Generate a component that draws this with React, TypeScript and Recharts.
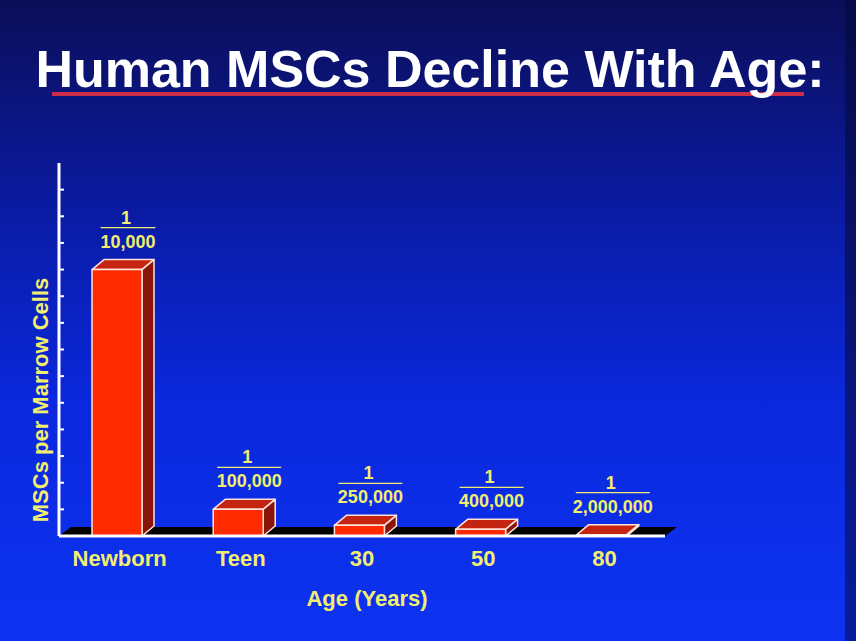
import React from "react";
import {
  BarChart,
  Bar,
  XAxis,
  YAxis,
  LabelList,
  Label,
  ReferenceArea,
} from "recharts";

const ages = ["Newborn", "Teen", "30", "50", "80"];
// MSCs per million marrow cells (1 in N)
const perMillion = [100, 10, 4, 2.5, 0.5];
const denominators = ["10,000", "100,000", "250,000", "400,000", "2,000,000"];
const yTicks = [10, 20, 30, 40, 50, 60, 70, 80, 90, 100, 110, 120, 130];

const data = ages.map((age, i) => ({
  age,
  value: perMillion[i],
  denom: denominators[i],
}));

const FONT = "'Liberation Sans', Arial, sans-serif";
const YELLOW = "#f2ee6e";
const DX = 12;
const DY = 10;

const Bar3D = (props: any) => {
  const { x, y, width, height } = props;
  const fx = x - 3;
  const bottom = y + height;
  return (
    <g stroke="#ffe2d8" strokeWidth={1.5} strokeLinejoin="round">
      <polygon
        points={`${fx},${y} ${fx + DX},${y - DY} ${fx + width + DX},${y - DY} ${fx + width},${y}`}
        fill="#c42410"
      />
      <polygon
        points={`${fx + width},${y} ${fx + width + DX},${y - DY} ${fx + width + DX},${bottom - DY} ${fx + width},${bottom}`}
        fill="#8a140a"
      />
      <rect x={fx} y={y} width={width} height={height} fill="#ff2a00" />
    </g>
  );
};

const Floor = (props: any) => {
  const { x, y, width, height } = props;
  const b = y + height;
  return (
    <polygon
      points={`${x},${b} ${x + DX},${b - 9} ${x + width + DX},${b - 9} ${x + width},${b}`}
      fill="#000000"
    />
  );
};

const Fraction = (props: any) => {
  const { x, y, width, index } = props;
  const label = denominators[index];
  const cx = x + width / 2 + 8;
  const lineW = Math.min(label.length * 9 + 1, 74);
  return (
    <g fontFamily={FONT} fontWeight="bold" fontSize={18} fill={YELLOW} textAnchor="middle">
      <text x={cx - 2} y={y - 46}>1</text>
      <line x1={cx - lineW / 2} x2={cx + lineW / 2} y1={y - 42} y2={y - 42} stroke={YELLOW} strokeWidth={1.2} />
      <text x={cx} y={y - 22}>{label}</text>
    </g>
  );
};

const App: React.FC = () => {
  return (
    <div
      style={{
        position: "absolute",
        left: 0,
        top: 0,
        width: 856,
        height: 641,
        background:
          "linear-gradient(to bottom, #0b0e58 0%, #0b1686 20%, #0a1ca8 35%, #0a28dc 62%, #0d33f2 100%)",
        overflow: "hidden",
      }}
    >
      <div
        style={{
          position: "absolute",
          right: 0,
          top: 0,
          width: 11,
          height: 641,
          background: "linear-gradient(to bottom, #070b48, #0a1c9a)",
        }}
      />
      <svg width={856} height={140} style={{ position: "absolute", left: 0, top: 0 }}>
        <rect x={52} y={92} width={752} height={4} fill="#cc2e4a" />
        <text
          x={430}
          y={87}
          textAnchor="middle"
          fontFamily={FONT}
          fontWeight="bold"
          fontSize={52}
          fill="#ffffff"
        >
          Human MSCs Decline With Age:
        </text>
      </svg>
      <div style={{ position: "absolute", left: 0, top: 0 }}>
        <BarChart
          width={856}
          height={641}
          data={data}
          margin={{ top: 163, right: 191, bottom: 75, left: 59 }}
          barSize={50}
        >
          <ReferenceArea y1={0} y2={0.3} shape={<Floor />} fillOpacity={1} />
          <XAxis
            dataKey="age"
            height={30}
            axisLine={{ stroke: "#ffffff", strokeWidth: 3 }}
            tickLine={false}
            tickSize={6}
            tickMargin={8}
            tick={{ fill: YELLOW, fontSize: 22, fontWeight: "bold", fontFamily: FONT }}
            interval={0}
          >
            <Label
              content={() => (
                <text
                  x={367}
                  y={606}
                  textAnchor="middle"
                  fontFamily={FONT}
                  fontWeight="bold"
                  fontSize={22}
                  fill={YELLOW}
                >
                  Age (Years)
                </text>
              )}
            />
          </XAxis>
          <YAxis
            width={1}
            mirror
            domain={[0, 140]}
            ticks={yTicks}
            tickSize={5}
            tickFormatter={() => ""}
            axisLine={{ stroke: "#ffffff", strokeWidth: 3 }}
            tickLine={{ stroke: "#ffffff", strokeWidth: 2 }}
            allowDataOverflow
          >
            <Label
              content={() => (
                <text
                  x={48}
                  y={400}
                  transform="rotate(-90 48 400)"
                  textAnchor="middle"
                  fontFamily={FONT}
                  fontWeight="bold"
                  fontSize={22}
                  fill={YELLOW}
                >
                  MSCs per Marrow Cells
                </text>
              )}
            />
          </YAxis>
          <Bar dataKey="value" shape={<Bar3D />} isAnimationActive={false}>
            <LabelList dataKey="value" content={<Fraction />} />
          </Bar>
        </BarChart>
      </div>
    </div>
  );
};

export default App;
